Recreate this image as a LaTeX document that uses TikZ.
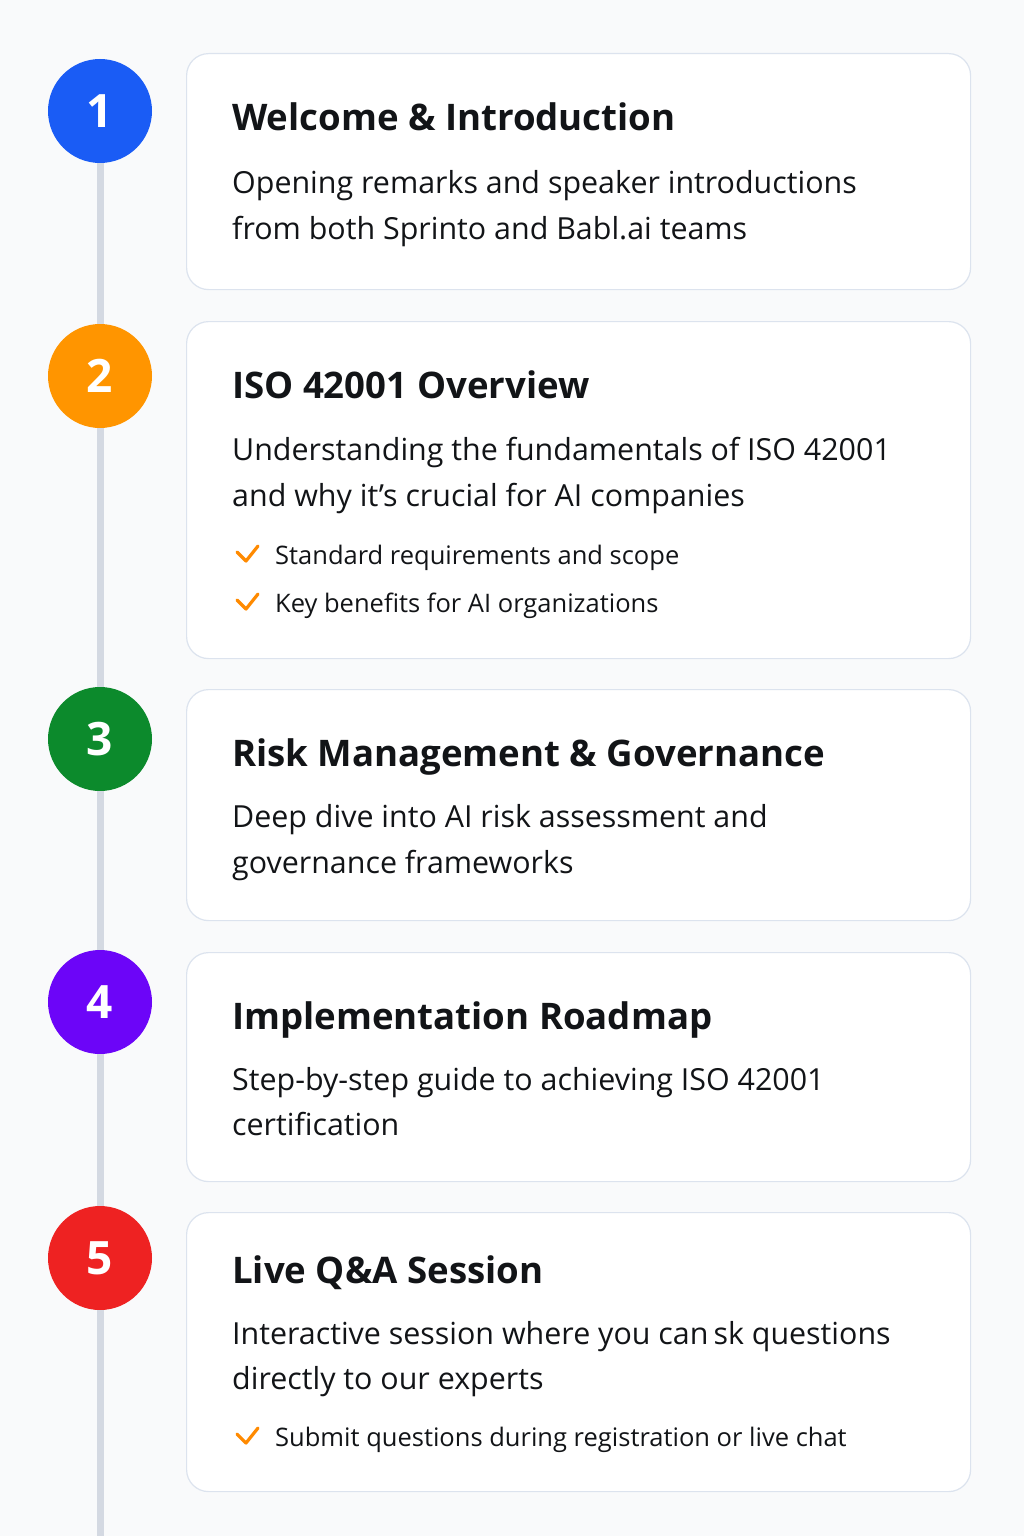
\documentclass[tikz,border=0pt]{standalone}
\usepackage{fontspec}
\setmainfont{Open Sans}
\usetikzlibrary{positioning}
\definecolor{bgcol}{HTML}{F9FAFB}
\definecolor{cardline}{HTML}{DCE3EE}
\definecolor{linecol}{HTML}{D4D9E2}
\definecolor{ink}{HTML}{121417}
\definecolor{blue1}{HTML}{1A5CF5}
\definecolor{orange2}{HTML}{FF9500}
\definecolor{green3}{HTML}{0C8A2C}
\definecolor{purple4}{HTML}{6C05F8}
\definecolor{red5}{HTML}{EE2222}
\definecolor{tickcol}{HTML}{FF8A00}

\begin{document}
\begin{tikzpicture}[x=1pt,y=-1pt,
    dot/.style={circle,minimum size=104pt,inner sep=0pt,text=white,font=\bfseries\fontsize{46}{46}\selectfont},
    card/.style={draw=cardline,fill=white,rounded corners=22pt,line width=1.2pt,minimum width=784pt,anchor=north west,inner sep=0pt},
    ttl/.style={anchor=base west,inner sep=0pt,text=ink,font=\bfseries\fontsize{36.6}{44}\selectfont},
    txt/.style={anchor=base west,inner sep=0pt,text=ink,font=\fontsize{30.4}{46}\selectfont},
    itm/.style={anchor=base west,inner sep=0pt,text=ink,font=\fontsize{25.5}{30}\selectfont},
    seg/.style={draw=linecol,line width=7pt},
    chk/.pic={\draw[tickcol,line width=3.2pt,line cap=round,line join=round] (-10,-2) -- (-1,7) -- (11,-8);}]
   \fill[bgcol] (0,0) rectangle (1024,1536);
   \useasboundingbox (0,0) rectangle (1024,1536);

   % cards
   \node[card,minimum height=236pt] (c1) at (186,53) {};
   \node[card,minimum height=337pt] (c2) at (186,321) {};
   \node[card,minimum height=231pt] (c3) at (186,689) {};
   \node[card,minimum height=229pt] (c4) at (186,952) {};
   \node[card,minimum height=279pt] (c5) at (186,1212) {};

   % step circles
   \node[dot,fill=blue1] (s1) at (100,111) {1};
   \node[dot,fill=orange2] (s2) at (100,376) {2};
   \node[dot,fill=green3] (s3) at (100,739) {3};
   \node[dot,fill=purple4] (s4) at (100,1002) {4};
   \node[dot,fill=red5] (s5) at (100,1258) {5};
   \coordinate (end) at (100,1536);

   \draw[seg] (s1) -- (s2);
   \draw[seg] (s2) -- (s3);
   \draw[seg] (s3) -- (s4);
   \draw[seg] (s4) -- (s5);
   \draw[seg] (s5) -- (end);

   % card 1
   \node[ttl] (h1) at (232,131) {Welcome \& Introduction};
   \node[txt] (t1a) at (232,193) {Opening remarks and speaker introductions};
   \node[txt] (t1b) at (232,239) {from both Sprinto and Babl.ai teams};

   % card 2
   \node[ttl] (h2) at (232,398) {ISO 42001 Overview};
   \node[txt] (t2a) at (232,460) {Understanding the fundamentals of ISO 42001};
   \node[txt] (t2b) at (232,506) {and why it’s crucial for AI companies};
   \node[itm] (b2a) at (275,564) {Standard requirements and scope};
   \node[itm] (b2b) at (275,612) {Key benefits for AI organizations};
   \pic at (247,554) {chk};
   \pic at (247,602) {chk};

   % card 3
   \node[ttl] (h3) at (232,766) {Risk Management \& Governance};
   \node[txt] (t3a) at (232,827) {Deep dive into AI risk assessment and};
   \node[txt] (t3b) at (232,873) {governance frameworks};

   % card 4
   \node[ttl] (h4) at (232,1029) {Implementation Roadmap};
   \node[txt] (t4a) at (232,1090) {Step-by-step guide to achieving ISO 42001};
   \node[txt] (t4b) at (232,1135) {certification};

   % card 5
   \node[ttl] (h5) at (232,1283) {Live Q\&A Session};
   \node[txt] (t5a) at (232,1344) {Interactive session where you can\,sk questions};
   \node[txt] (t5b) at (232,1389) {directly to our experts};
   \node[itm] (b5a) at (275,1446) {Submit questions during registration or live chat};
   \pic at (247,1436) {chk};
\end{tikzpicture}
\end{document}
